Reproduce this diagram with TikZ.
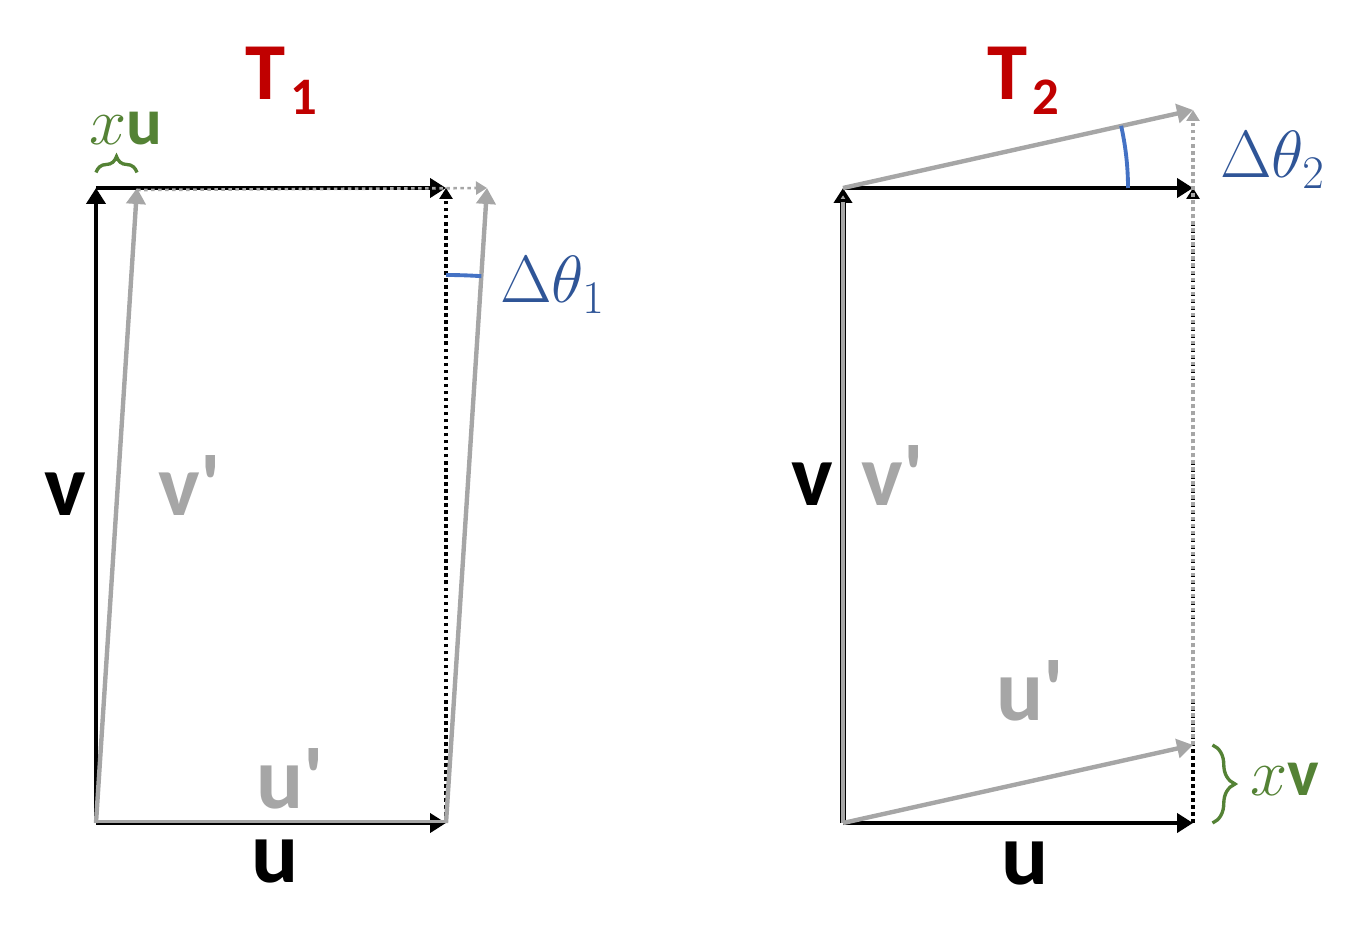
\RequirePackage{fix-cm}
\documentclass[tikz,border=0pt]{standalone}
\usepackage{fontspec}
\setmainfont{Carlito}
\usetikzlibrary{arrows.meta,decorations.pathreplacing}
\definecolor{tred}{HTML}{C00000}
\definecolor{tblue}{HTML}{2F5597}
\definecolor{arcblue}{HTML}{4472C4}
\definecolor{tgreen}{HTML}{548235}
\definecolor{vgray}{HTML}{A6A6A6}
\newcommand{\veclab}{\fontsize{50}{56}\selectfont\bfseries}
\newcommand{\anglab}{\fontsize{38}{44}\selectfont}
\newcommand{\prm}{\textquotesingle}
\begin{document}
\begin{tikzpicture}
		[	vec/.style={line width=2.5pt,-{Triangle[length=0.32cm,width=0.38cm]}},
		grayvec/.style={vec,draw=vgray,-{Triangle[length=0.32cm,width=0.38cm,fill=vgray]}},
		dotvec/.style={line width=2.1pt,dash pattern=on 2pt off 2pt,-{Triangle[length=0.22cm,width=0.26cm]}},
		graydotvec/.style={dotvec,draw=vgray,-{Triangle[length=0.22cm,width=0.26cm,fill=vgray]}},
		angarc/.style={draw=arcblue,line width=2.2pt},
		gbrace/.style={draw=tgreen,line width=1.9pt,decorate},
		plain/.style={draw=none,fill=none,inner sep=0pt,anchor=base},
		]
		\useasboundingbox (0,0) rectangle (27,18.9);

		% T1
		\coordinate (O1) at (1.92,2.44);
		\coordinate (U1) at (8.92,2.44);
		\coordinate (V1) at (1.92,15.14);
		\coordinate (W1) at (8.92,15.14);
		\coordinate (Vp1) at (2.74,15.14);
		\coordinate (Wp1) at (9.74,15.14);
		\coordinate (O1s) at (1.92,2.47);
		\coordinate (U1s) at (8.92,2.47);
		\coordinate (Vp1s) at (2.74,15.10);

		\draw[vec] (O1) -- (U1);
		\draw[vgray,line width=1.2pt] (O1s) -- (U1s);
		\draw[vec] (O1) -- (V1);
		\draw[vec] (V1) -- (W1);
		\draw[graydotvec,line width=1.5pt] (Vp1s) -- (Wp1);
		\draw[dotvec] (U1) -- (W1);
		\draw[grayvec] (O1) -- (Vp1);
		\draw[grayvec] (U1) -- (Wp1);
		\draw[angarc] (U1) ++(90:10.96) arc (90:86.3:10.96);
		\draw[gbrace,decoration={brace,amplitude=0.32cm}] (1.92,15.45) -- (2.74,15.45);

		\node[plain,text=tred] (t1) at (5.62,16.9) {\fontsize{46}{50}\selectfont\bfseries T\hspace{0.1cm}\raisebox{-0.3cm}{\fontsize{30}{34}\selectfont 1}};
		\node[plain,text=tgreen] (xu) at (2.52,16.0) {\anglab$x$\textbf{u}};
		\node[plain,anchor=base west,text=tblue] (dt1) at (10.0,12.84) {\anglab$\Delta\theta_1$};
		\node[plain] (v1) at (1.3,8.6) {\veclab v};
		\node[plain,text=vgray] (vp1) at (3.8,8.6) {\veclab v\prm};
		\node[plain,text=vgray] (up1) at (5.8,2.74) {\veclab u\prm};
		\node[plain] (u1) at (5.5,1.26) {\veclab u};

		% T2
		\coordinate (O2) at (16.86,2.44);
		\coordinate (U2) at (23.86,2.44);
		\coordinate (V2) at (16.86,15.14);
		\coordinate (V2s) at (16.86,14.85);
		\coordinate (W2) at (23.86,15.14);
		\coordinate (Up2) at (23.86,4.0);
		\coordinate (Wp2) at (23.86,16.70);

		\draw[vec] (O2) -- (U2);
		\draw[line width=3.6pt,-{Triangle[length=0.3cm,width=0.36cm,fill=vgray]}] (O2) -- (V2);
		\draw[vgray,line width=2.1pt] (O2) -- (V2s);
		\draw[vec] (V2) -- (W2);
		\draw[dotvec] (U2) -- (W2);
		\draw[graydotvec] (Up2) -- (Wp2);
		\draw[grayvec] (O2) -- (Up2);
		\draw[grayvec] (V2) -- (Wp2);
		\draw[angarc] (V2) ++(0:5.7) arc (0:12.6:5.7);
		\draw[gbrace,decoration={brace,amplitude=0.45cm}] (24.25,4.0) -- (24.25,2.44);

		\node[plain,text=tred] (t2) at (20.46,16.9) {\fontsize{46}{50}\selectfont\bfseries T\hspace{0.1cm}\raisebox{-0.3cm}{\fontsize{30}{34}\selectfont 2}};
		\node[plain,anchor=base west,text=tblue] (dt2) at (24.4,15.34) {\anglab$\Delta\theta_2$};
		\node[plain,anchor=base west,text=tgreen] (xv) at (25.0,3.0) {\anglab$x$\textbf{v}};
		\node[plain] (v2) at (16.24,8.8) {\veclab v};
		\node[plain,text=vgray] (vp2) at (17.86,8.8) {\veclab v\prm};
		\node[plain,text=vgray] (up2) at (20.6,4.5) {\veclab u\prm};
		\node[plain] (u2) at (20.5,1.22) {\veclab u};
	\end{tikzpicture}
\end{document}
